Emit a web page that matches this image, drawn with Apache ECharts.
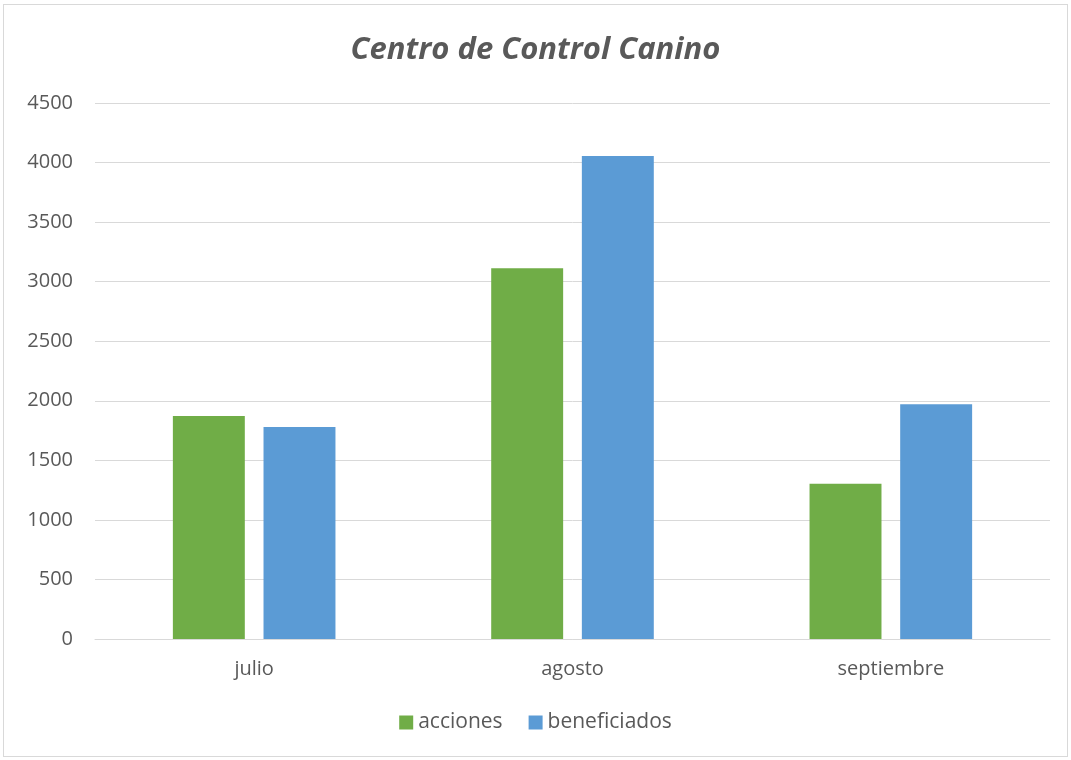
<!DOCTYPE html>
<html><head><meta charset="utf-8">
<script src="https://cdn.jsdelivr.net/npm/echarts@6/dist/echarts.min.js"></script>
<style>
html,body{margin:0;padding:0;background:#fff;}
#frame{position:absolute;left:3px;top:4px;width:1063px;height:751px;border:1px solid #d9d9d9;}
#c{position:absolute;left:0;top:0;width:1071px;height:760px;}
</style></head><body>
<div id="frame"></div>
<div id="c"></div>
<script>
const categories = ['julio', 'agosto', 'septiembre'];
const acciones = [1872, 3112, 1304];
const beneficiados = [1780, 4055, 1970];
const yTicks = [0, 500, 1000, 1500, 2000, 2500, 3000, 3500, 4000, 4500];

const chart = echarts.init(document.getElementById('c'), null, {renderer: 'canvas'});
const font = '"Open Sans", "Liberation Sans", sans-serif';
chart.setOption({
  backgroundColor: 'transparent',
  animation: false,
  title: {
    text: 'Centro de Control Canino', left: 'center', top: 30,
    textStyle: {fontFamily: font, fontSize: 31, fontStyle: 'italic', fontWeight: 'bold', color: '#595959'}
  },
  legend: {
    bottom: 22, left: 'center', itemWidth: 14, itemHeight: 14, itemGap: 26,
    icon: 'rect',
    textStyle: {fontFamily: font, fontSize: 21, color: '#595959'},
    data: ['acciones', 'beneficiados']
  },
  grid: {left: 95, right: 21, top: 103, bottom: 121, containLabel: false},
  xAxis: {
    type: 'category', data: categories,
    axisLine: {show: true, lineStyle: {color: '#d9d9d9', width: 1}},
    axisTick: {show: false},
    axisLabel: {fontFamily: font, fontSize: 20, color: '#595959', margin: 20}
  },
  yAxis: {
    type: 'value', min: yTicks[0], max: yTicks[yTicks.length - 1], interval: 500,
    axisLine: {show: false}, axisTick: {show: false},
    splitLine: {lineStyle: {color: '#d9d9d9', width: 1}},
    axisLabel: {fontFamily: font, fontSize: 20, color: '#595959', margin: 22,
      formatter: function (v) { return String(v); }}
  },
  series: [
    {name: 'acciones', type: 'bar', data: acciones, barWidth: '22.6%', barGap: '26%',
     itemStyle: {color: '#70AD47'}},
    {name: 'beneficiados', type: 'bar', data: beneficiados, barWidth: '22.6%', barGap: '26%',
     itemStyle: {color: '#5B9BD5'}}
  ]
});
</script>
</body></html>
